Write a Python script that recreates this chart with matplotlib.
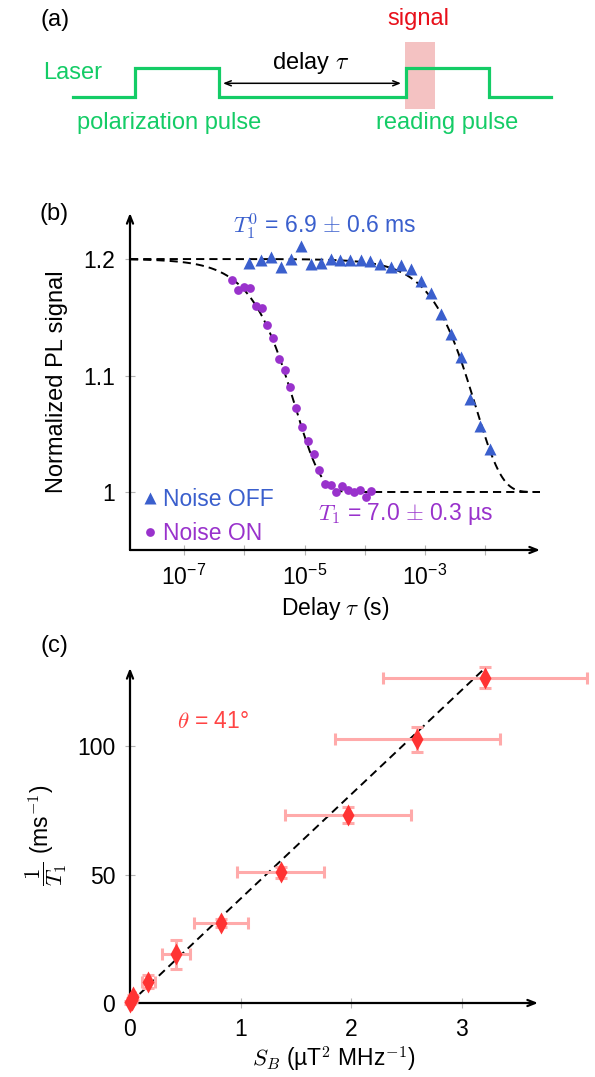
"""T1 relaxometry figure: pulse scheme, PL decay curves and 1/T1 vs noise spectral density."""

import matplotlib

matplotlib.use("Agg")
import matplotlib.pyplot as plt
import numpy as np
from matplotlib.patches import Rectangle
from matplotlib.ticker import FixedLocator, FuncFormatter, NullFormatter

plt.rcParams["font.family"] = ["Liberation Sans", "DejaVu Sans"]
plt.rcParams["mathtext.fontset"] = "custom"
plt.rcParams["mathtext.rm"] = "Liberation Sans"
plt.rcParams["mathtext.it"] = "Liberation Sans:italic"
plt.rcParams["mathtext.bf"] = "Liberation Sans:bold"

FS = 16.5
BLUE = "#3a5fcd"
PURPLE = "#9932cc"
GREEN = "#14cc66"
RED = "#ff3333"
PINK = "#ffaaaa"
TICK_GRAY = "#b4b4b4"

# (a) pulse scheme: edge times (schematic units) and laser on/off levels
laser_t = [73, 135, 135, 219, 219, 406, 406, 489, 489, 551]
laser_level = [0, 0, 1, 1, 0, 0, 1, 1, 0, 0]
delay_span = (223, 401)
signal_window = (405, 435)

# (b) normalized PL signal vs delay
tau_off = [1.22e-6, 1.86e-6, 2.73e-6, 4.0e-6, 5.97e-6, 8.75e-6, 1.28e-5, 1.88e-5,
           2.70e-5, 3.95e-5, 5.79e-5, 8.49e-5, 1.24e-4, 1.82e-4, 2.67e-4, 3.98e-4,
           5.83e-4, 8.55e-4, 1.25e-3, 1.84e-3, 2.69e-3, 3.94e-3, 5.53e-3, 8.26e-3,
           1.21e-2]
pl_off = [1.197, 1.199, 1.202, 1.193, 1.200, 1.211, 1.196, 1.197, 1.200, 1.199,
          1.199, 1.199, 1.198, 1.196, 1.193, 1.195, 1.191, 1.181, 1.171, 1.153,
          1.136, 1.116, 1.080, 1.057, 1.037]
tau_on = [6.15e-7, 7.83e-7, 9.85e-7, 1.24e-6, 1.54e-6, 1.94e-6, 2.41e-6, 3.03e-6,
          3.71e-6, 4.66e-6, 5.79e-6, 7.28e-6, 9.16e-6, 1.12e-5, 1.41e-5, 1.77e-5,
          2.15e-5, 2.70e-5, 3.36e-5, 4.22e-5, 5.22e-5, 6.57e-5, 8.26e-5, 1.03e-4,
          1.27e-4]
pl_on = [1.182, 1.173, 1.176, 1.175, 1.160, 1.158, 1.143, 1.132, 1.114, 1.105,
         1.090, 1.072, 1.056, 1.044, 1.033, 1.019, 1.007, 1.006, 1.000, 1.005,
         1.002, 1.000, 1.002, 0.996, 1.001]
t1_off = 6.9e-3
t1_on = 7.0e-6
pl_base = 1.0
pl_contrast = 0.2

# (c) relaxation rate vs noise spectral density
sb = [0.0, 0.015, 0.03, 0.166, 0.416, 0.823, 1.362, 1.968, 2.597, 3.21]
sb_err = [0.005, 0.01, 0.015, 0.06, 0.125, 0.24, 0.39, 0.57, 0.746, 0.92]
rate = [0.3, 1.2, 2.2, 8.3, 18.9, 31.2, 50.8, 73.2, 102.6, 126.6]
rate_err = [0.5, 0.8, 1.0, 2.5, 5.6, 1.6, 2.0, 3.1, 5.0, 4.1]
fit_slope = 40.6
fit_range = (0.0, 3.22)


def arrow_axes(ax):
    """Hide the box and draw left/bottom axes as arrows."""
    for side in ("top", "right", "left", "bottom"):
        ax.spines[side].set_visible(False)
    arrow = dict(arrowstyle="->,head_length=0.55,head_width=0.22", lw=1.6, color="black",
                 shrinkA=0, shrinkB=0)
    ax.annotate("", xy=(1, 0), xytext=(0, 0), xycoords="axes fraction", arrowprops=arrow)
    ax.annotate("", xy=(0, 1), xytext=(0, 0), xycoords="axes fraction", arrowprops=arrow)
    ax.tick_params(which="both", direction="inout", length=7.2, width=0.8,
                   color=TICK_GRAY, labelsize=FS, pad=7)


fig = plt.figure(figsize=(5.95, 10.77), dpi=100)

# ---------------- (a) ----------------
ax_a = fig.add_axes([0, 1 - 140 / 1077, 1, 140 / 1077])
ax_a.set_xlim(0, 595)
ax_a.set_ylim(-1.493, 3.334)
ax_a.axis("off")
ax_a.add_patch(Rectangle((signal_window[0], -0.424), signal_window[1] - signal_window[0],
                         2.321, color="#f4c2c2", lw=0, zorder=1))
ax_a.plot(laser_t, laser_level, color=GREEN, lw=2.3, solid_joinstyle="miter", zorder=2)
ax_a.annotate("", xy=(delay_span[1], 0.462), xytext=(delay_span[0], 0.462),
              arrowprops=dict(arrowstyle="<->,head_length=0.45,head_width=0.18",
                              lw=1.1, color="black", shrinkA=0, shrinkB=0))
ax_a.text(72.5, 0.817, "Laser", color=GREEN, fontsize=17, ha="center", va="center")
ax_a.text(311, 1.16, r"delay $\tau$", fontsize=17, ha="center", va="center",
          math_fontfamily="cm")
ax_a.text(418, 2.68, "signal", color="#e8101a", fontsize=17, ha="center", va="center")
ax_a.text(169, -0.907, "polarization pulse", color=GREEN, fontsize=17,
          ha="center", va="center")
ax_a.text(447.5, -0.907, "reading pulse", color=GREEN, fontsize=17,
          ha="center", va="center")

# ---------------- (b) ----------------
ax_b = fig.add_axes([130 / 595, 1 - 550 / 1077, 410 / 595, 337 / 1077])
ax_b.set_xscale("log")
ax_b.set_xlim(10 ** -7.896, 10 ** -1.093)
ax_b.set_ylim(0.9502, 1.2395)
arrow_axes(ax_b)

tau_fit = np.logspace(-7.896, -1.093, 400)
dash = dict(color="black", lw=1.4, dashes=(4.2, 2.6), zorder=2)
ax_b.plot(tau_fit, pl_base + pl_contrast * np.exp(-tau_fit / t1_off), **dash)
ax_b.plot(tau_fit, pl_base + pl_contrast * np.exp(-tau_fit / t1_on), **dash)
ax_b.plot(tau_off, pl_off, "^", color=BLUE, ms=9, mec="none", zorder=3, label="Noise OFF")
ax_b.plot(tau_on, pl_on, "o", color=PURPLE, ms=6.3, mec="none", zorder=3, label="Noise ON")

ax_b.xaxis.set_major_locator(FixedLocator([1e-7, 1e-5, 1e-3]))
ax_b.xaxis.set_minor_locator(FixedLocator([1e-6, 1e-4, 1e-2]))
ax_b.xaxis.set_major_formatter(FuncFormatter(lambda v, p: r"$10^{%d}$" % round(np.log10(v))))
ax_b.xaxis.set_minor_formatter(NullFormatter())
ax_b.set_yticks([1.0, 1.1, 1.2])
ax_b.set_yticklabels(["1", "1.1", "1.2"])

ax_b.set_xlabel(r"Delay $\tau$ (s)", fontsize=FS, math_fontfamily="cm")
ax_b.xaxis.set_label_coords(0.5, -0.135)
ax_b.set_ylabel("Normalized PL signal", fontsize=17)
ax_b.yaxis.set_label_coords(-0.15, 0.5)

ax_b.text(0.475, 0.958, r"$T_1^0$ = 6.9 $\pm$ 0.6 ms", color=BLUE, fontsize=FS,
          ha="center", va="center", transform=ax_b.transAxes, math_fontfamily="cm")
ax_b.text(0.673, 0.107, r"$T_1$ = 7.0 $\pm$ 0.3 µs", color=PURPLE, fontsize=FS,
          ha="center", va="center", transform=ax_b.transAxes, math_fontfamily="cm")
ax_b.legend(loc="lower left", bbox_to_anchor=(0.02, 0.0), frameon=False, fontsize=FS,
            handlelength=0.6, handletextpad=0.3, labelspacing=0.5, borderpad=0.1,
            borderaxespad=0.1, labelcolor=[BLUE, PURPLE])

# ---------------- (c) ----------------
ax_c = fig.add_axes([130 / 595, 1 - 1003 / 1077, 408 / 595, 335 / 1077])
ax_c.set_xlim(0, 3.69)
ax_c.set_ylim(0, 130.4)
arrow_axes(ax_c)

fx = np.linspace(*fit_range, 50)
ax_c.plot(fx, fit_slope * fx, **dash)
ax_c.errorbar(sb, rate, xerr=sb_err, yerr=rate_err, fmt="none", ecolor=PINK,
              elinewidth=2.2, capsize=4.5, capthick=2.2, zorder=3, clip_on=False)
ax_c.plot(sb, rate, "d", color=RED, ms=11, mec="none", zorder=4, clip_on=False)

ax_c.set_xticks([0, 1, 2, 3])
ax_c.set_yticks([0, 50, 100])
ax_c.set_xlabel(r"$S_B$ (µT$^{\mathsf{2}}$ MHz$^{\mathsf{-1}}$)", fontsize=FS,
                math_fontfamily="cm")
ax_c.xaxis.set_label_coords(0.5, -0.125)
ax_c.set_ylabel(r"$\dfrac{1}{T_1}$ (ms$^{\mathsf{-1}}$)", fontsize=FS, math_fontfamily="cm")
ax_c.yaxis.set_label_coords(-0.15, 0.5)
ax_c.text(0.203, 0.839, r"$\theta$ = 41°", color="#ff4444", fontsize=FS,
          ha="center", va="center", transform=ax_c.transAxes, math_fontfamily="cm")

# panel labels
fig.text(55 / 595, 1 - 20 / 1077, "(a)", fontsize=17, ha="center", va="center")
fig.text(54 / 595, 1 - 214 / 1077, "(b)", fontsize=17, ha="center", va="center")
fig.text(54 / 595, 1 - 646 / 1077, "(c)", fontsize=17, ha="center", va="center")

fig.savefig("out.png", dpi=100)
